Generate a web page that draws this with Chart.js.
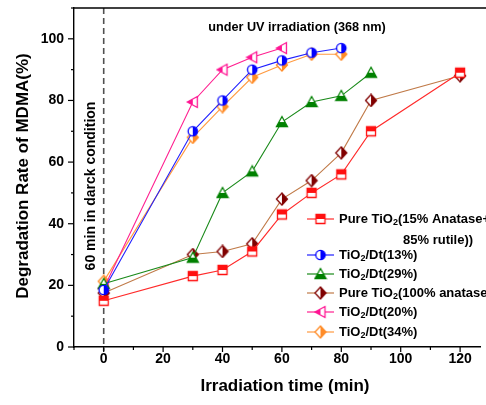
<!DOCTYPE html>
<html>
<head>
<meta charset="utf-8">
<script src="https://cdn.jsdelivr.net/npm/chart.js@4.4.0/dist/chart.umd.min.js"></script>
<style>
  html, body { margin: 0; padding: 0; background: #fff; }
</style>
</head>
<body>
<canvas id="chart" width="486" height="405"></canvas>
<script>
// Degradation of MDMA under UV irradiation

const FONT = '"Liberation Sans", Arial, sans-serif';

// irradiation times (min)
const timesLong = [0, 30, 40, 50, 60, 70, 80, 90, 120];
const times80 = [0, 30, 40, 50, 60, 70, 80];
const times90 = [0, 30, 40, 50, 60, 70, 80, 90];
const times60 = [0, 30, 40, 50, 60];

// degradation rate (%)
const pureMixed = [15, 23, 25, 31, 43, 50, 56, 70, 89];
const dt13 = [18.5, 70, 80, 90, 93, 95.5, 97];
const dt29 = [20.5, 29, 50, 57, 73, 79.5, 81.5, 89];
const pureAnatase = [17.5, 30, 31, 33.5, 48, 54, 63, 80, 88];
const dt20 = [19, 79.5, 90, 94, 97];
const dt34 = [21.3, 68, 78, 87.5, 91.5, 95, 95];

const legendLabels = [
  ['Pure TiO_2(15% Anatase+', '85% rutile))'],
  ['TiO_2/Dt(13%)'],
  ['TiO_2/Dt(29%)'],
  ['Pure TiO_2(100% anatase)'],
  ['TiO_2/Dt(20%)'],
  ['TiO_2/Dt(34%)']
];

const xTickLabels = [0, 20, 40, 60, 80, 100, 120];
const yTickLabels = [0, 20, 40, 60, 80, 100];

// build a half-filled marker as a small canvas
function makeMarker(shape, color, half) {
  const s = 14, c = s / 2;
  const cv = document.createElement('canvas');
  cv.width = s; cv.height = s;
  const g = cv.getContext('2d');
  function path() {
    g.beginPath();
    if (shape === 'square') {
      g.rect(c - 4.5, c - 4.5, 9, 9);
    } else if (shape === 'circle') {
      g.arc(c, c, 4.7, 0, Math.PI * 2);
    } else if (shape === 'triUp') {
      g.moveTo(c, c - 5.5); g.lineTo(c + 5.5, c + 4.5); g.lineTo(c - 5.5, c + 4.5); g.closePath();
    } else if (shape === 'triLeft') {
      g.moveTo(c - 5.5, c); g.lineTo(c + 4.5, c - 5.5); g.lineTo(c + 4.5, c + 5.5); g.closePath();
    } else if (shape === 'diamond') {
      g.moveTo(c, c - 6); g.lineTo(c + 5.5, c); g.lineTo(c, c + 6); g.lineTo(c - 5.5, c); g.closePath();
    }
  }
  path();
  g.fillStyle = '#fff';
  g.fill();
  g.save();
  path();
  g.clip();
  g.fillStyle = color;
  if (half === 'top') g.fillRect(0, 0, s, c);
  if (half === 'bottom') g.fillRect(0, c, s, s);
  if (half === 'right') g.fillRect(c, 0, s, s);
  if (half === 'left') g.fillRect(0, 0, c, s);
  g.restore();
  path();
  g.lineWidth = 1.3;
  g.strokeStyle = color;
  g.stroke();
  return cv;
}

function pts(xs, ys) {
  return xs.map((x, i) => ({ x: x, y: ys[i] }));
}

const series = [
  { data: pts(timesLong, pureMixed), line: '#ff2a2a', mark: makeMarker('square', '#ff1010', 'top') },
  { data: pts(times80, dt13), line: '#2020ff', mark: makeMarker('circle', '#0000ff', 'right') },
  { data: pts(times90, dt29), line: '#1a8a1a', mark: makeMarker('triUp', '#008000', 'bottom') },
  { data: pts(timesLong, pureAnatase), line: '#c07a48', mark: makeMarker('diamond', '#800000', 'right') },
  { data: pts(times60, dt20), line: '#ff2090', mark: makeMarker('triLeft', '#ff1493', 'left') },
  { data: pts(times80, dt34), line: '#ff9a40', mark: makeMarker('diamond', '#ff8c28', 'right') }
];

// draw text with "_2" as subscript
function richText(ctx, str, x, y, size) {
  const parts = str.split('_');
  let cx = x;
  parts.forEach((p, i) => {
    if (i > 0) {
      ctx.font = 'bold ' + Math.round(size * 0.7) + 'px ' + FONT;
      ctx.fillText(p[0], cx, y + size * 0.3);
      cx += ctx.measureText(p[0]).width;
      p = p.slice(1);
    }
    ctx.font = 'bold ' + size + 'px ' + FONT;
    ctx.fillText(p, cx, y);
    cx += ctx.measureText(p).width;
  });
  return cx - x;
}

const decorations = {
  id: 'decorations',
  beforeDatasetsDraw(chart) {
    const { ctx, chartArea, scales } = chart;
    const x0 = scales.x.getPixelForValue(0);
    ctx.save();
    ctx.strokeStyle = '#505050';
    ctx.lineWidth = 1.6;
    ctx.setLineDash([6, 4]);
    ctx.beginPath();
    ctx.moveTo(x0, chartArea.top);
    ctx.lineTo(x0, chartArea.bottom + 4);
    ctx.stroke();
    ctx.restore();
  },
  afterDraw(chart) {
    const { ctx, chartArea, scales } = chart;
    const xs = scales.x, ys = scales.y;
    ctx.save();
    ctx.strokeStyle = '#000';
    ctx.lineWidth = 1.4;

    // top frame line
    ctx.beginPath();
    ctx.moveTo(chartArea.left, chartArea.top);
    ctx.lineTo(chart.width, chartArea.top);
    ctx.stroke();

    // tick marks
    ctx.lineWidth = 1.2;
    for (let v = -10; v <= 120; v += 10) {
      const px = xs.getPixelForValue(v);
      const len = v % 20 === 0 ? 5 : 3;
      ctx.beginPath();
      ctx.moveTo(px, chartArea.bottom);
      ctx.lineTo(px, chartArea.bottom + len);
      ctx.stroke();
    }
    for (let v = 0; v <= 110; v += 10) {
      const py = ys.getPixelForValue(v);
      const len = v % 20 === 0 ? 6 : 3;
      ctx.beginPath();
      ctx.moveTo(chartArea.left, py);
      ctx.lineTo(chartArea.left - len, py);
      ctx.stroke();
    }

    // axis titles
    ctx.fillStyle = '#000';
    ctx.textAlign = 'center';
    ctx.textBaseline = 'middle';
    ctx.font = 'bold 17px ' + FONT;
    ctx.fillText('Irradiation time (min)', 285, 386);
    ctx.save();
    ctx.translate(23, 176);
    ctx.rotate(-Math.PI / 2);
    ctx.fillText('Degradation Rate of MDMA(%)', 0, 0);
    ctx.restore();

    // annotations
    ctx.font = 'bold 12.7px ' + FONT;
    ctx.fillText('under UV irradiation (368 nm)', 297, 27);
    ctx.save();
    ctx.translate(91, 186);
    ctx.rotate(-Math.PI / 2);
    ctx.font = 'bold 14px ' + FONT;
    ctx.fillText('60 min in darck condition', 0, 0);
    ctx.restore();

    // legend
    ctx.textAlign = 'left';
    const rows = [219, 255, 274, 293, 312, 332];
    series.forEach((s, i) => {
      const y = rows[i];
      ctx.strokeStyle = s.line;
      ctx.lineWidth = 1.2;
      ctx.beginPath();
      ctx.moveTo(307, y);
      ctx.lineTo(334, y);
      ctx.stroke();
      ctx.drawImage(s.mark, 320.5 - s.mark.width / 2, y - s.mark.height / 2);
      ctx.fillStyle = '#000';
      richText(ctx, legendLabels[i][0], 339, y, 13);
      if (legendLabels[i][1]) {
        ctx.font = 'bold 13px ' + FONT;
        ctx.fillText(legendLabels[i][1], 403, y + 21);
      }
    });
    ctx.restore();
  }
};

const ctx = document.getElementById('chart').getContext('2d');
new Chart(ctx, {
  type: 'line',
  data: {
    datasets: series.map((s) => ({
      data: s.data,
      borderColor: s.line,
      borderWidth: 1.1,
      pointStyle: s.mark,
      pointBackgroundColor: s.line,
      tension: 0,
      fill: false
    }))
  },
  options: {
    responsive: false,
    animation: false,
    devicePixelRatio: 1,
    layout: { padding: { left: 0, right: 0, top: 8, bottom: 0 } },
    plugins: {
      legend: { display: false },
      tooltip: { enabled: false }
    },
    scales: {
      x: {
        type: 'linear',
        min: -10,
        max: 127,
        afterFit(scale) {
          scale.height = 58;
          scale.paddingLeft = 0;
          scale.paddingRight = 0;
        },
        ticks: {
          stepSize: 10,
          includeBounds: false,
          autoSkip: false,
          maxRotation: 0,
          padding: 4,
          color: '#000',
          font: { family: FONT, size: 14, weight: 'bold' },
          callback: (v) => (xTickLabels.includes(v) ? v : '')
        },
        grid: { display: true, drawOnChartArea: false, drawTicks: false },
        border: { display: true, color: '#000', width: 1.4 }
      },
      y: {
        min: 0,
        max: 110,
        afterFit(scale) {
          scale.width = 74;
          scale.paddingTop = 0;
          scale.paddingBottom = 0;
        },
        ticks: {
          stepSize: 10,
          includeBounds: false,
          autoSkip: false,
          padding: 10,
          color: '#000',
          font: { family: FONT, size: 14, weight: 'bold' },
          callback: (v) => (yTickLabels.includes(v) ? v : '')
        },
        grid: { display: true, drawOnChartArea: false, drawTicks: false },
        border: { display: true, color: '#000', width: 1.4 }
      }
    }
  },
  plugins: [decorations]
});
</script>
</body>
</html>
